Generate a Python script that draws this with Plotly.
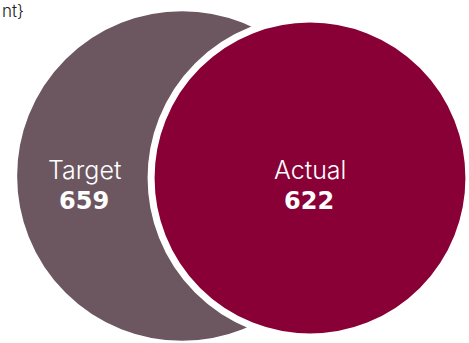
import plotly.graph_objects as go

labels = ["Target", "Actual"]
values = [659, 622]
colors = ["#6C5761", "#890036"]
centers_x = [182, 310]
centers_y = [176, 178]
scale = 0.2555  # px radius per unit value
corner_text = "nt}"

fig = go.Figure()
shapes = []
annotations = []
for lab, val, col, cx, cy in zip(labels, values, colors, centers_x, centers_y):
    r = val * scale
    shapes.append(dict(type="circle", xref="x", yref="y",
                       x0=cx - r, x1=cx + r, y0=cy - r, y1=cy + r,
                       fillcolor=col, line=dict(color="white", width=7),
                       layer="below"))

label_x = [84.5, 309.5]
for lab, val, lx in zip(labels, values, label_x):
    annotations.append(dict(x=lx, y=170, xref="x", yref="y", text=lab,
                            showarrow=False,
                            font=dict(family="Inter", size=25, weight=300, color="white")))
    annotations.append(dict(x=lx - 0.5, y=201, xref="x", yref="y", text="<b>%d</b>" % val,
                            showarrow=False,
                            font=dict(family="DejaVu Sans", size=24, color="white")))

annotations.append(dict(x=0, y=11, xref="paper", yref="y", text=corner_text, xanchor="left",
                        showarrow=False,
                        font=dict(family="Inter", size=17, weight=300, color="#222222")))

# invisible trace to establish axes
fig.add_trace(go.Scatter(x=[0, 469], y=[0, 343], mode="markers",
                         marker=dict(opacity=0), hoverinfo="skip", showlegend=False))

fig.update_layout(width=469, height=343, margin=dict(l=0, r=0, t=0, b=0),
                  paper_bgcolor="white", plot_bgcolor="white",
                  shapes=shapes, annotations=annotations, showlegend=False,
                  xaxis=dict(range=[0, 469], visible=False, fixedrange=True),
                  yaxis=dict(range=[343, 0], visible=False, fixedrange=True))
fig.write_html("out.html", config={"displayModeBar": False})
